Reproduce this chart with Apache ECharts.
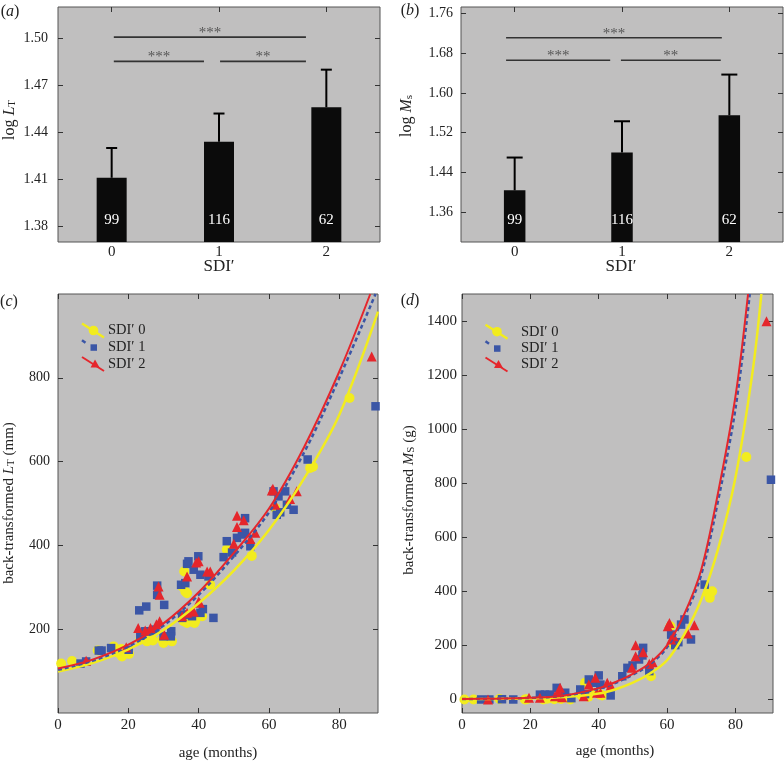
<!DOCTYPE html>
<html><head><meta charset="utf-8">
<script src="https://cdn.jsdelivr.net/npm/echarts@6/dist/echarts.min.js"></script>
<style>html,body{margin:0;padding:0;background:#fff}#c{width:784px;height:761px}</style>
</head><body><div id="c"></div>
<script>
const FONT = '"Liberation Serif", "Times New Roman", serif';

// ---------- data: panels (a) and (b) ----------
const sdiCategories = [0, 1, 2];
const sampleSizes = [99, 116, 62];
const logLTMean = [1.411, 1.434, 1.456];
const logLTUpper = [1.430, 1.452, 1.480];
const logMsMean = [1.404, 1.480, 1.555];
const logMsUpper = [1.470, 1.543, 1.637];
// significance bars: [from, to, level, stars]
const sigA = [[0.02, 1.81, 1.5008, '***'], [0.02, 0.86, 1.4853, '***'], [1.01, 1.81, 1.4853, '**']];
const sigB = [[-0.08, 1.93, 1.7112, '***'], [-0.08, 0.89, 1.6657, '***'], [0.99, 1.92, 1.6657, '**']];
const yTicksA = [1.38, 1.41, 1.44, 1.47, 1.50];
const yTicksB = [1.36, 1.44, 1.52, 1.60, 1.68, 1.76];
const xTicksAB = [0, 1, 2];

// ---------- data: panel (c) back-transformed L_T (mm) vs age ----------
const ageTicks = [0, 20, 40, 60, 80];
const yTicksC = [200, 400, 600, 800];
const yTicksD = [0, 200, 400, 600, 800, 1000, 1200, 1400];

const cSdi0 = [[0.9,118],[4.0,124],[11.3,149],[15.8,159],[17.2,143],[18,153],[18.2,135],[20.2,141],[23.4,175],[25.3,171],[27,173],[26,180],[29.6,175],[30,167],[32.4,171],[35.9,338],[35.3,302],[36.2,290],[36.7,286],[35.7,219],[36.7,215],[38.8,215],[39,219],[41,231],[43.3,306],[48,390],[55.1,375],[61.8,489],[71.7,585],[72.5,588],[82.9,752]];
const cSdi1 = [[6.4,118],[8,123],[11.6,149],[12.4,149],[15.1,155],[20.1,151],[23.1,245],[25.1,254],[28.2,304],[28.2,282],[30.2,258],[23.4,184],[24.8,195],[26.3,195],[27.7,199],[30,183],[32.2,195],[32.1,183],[35.7,235],[35.3,227],[37.1,235],[38.1,231],[40.5,239],[41.2,248],[35,306],[36.2,310],[36.7,356],[37.1,362],[39.9,374],[38.6,342],[40.5,330],[42.8,326],[44.2,227],[47.1,372],[48,410],[49.5,383],[50.9,418],[52.3,426],[53.2,465],[53.2,430],[54.7,398],[61.3,529],[62.7,517],[62.2,473],[63.2,479],[64.6,529],[65.1,497],[67,485],[71,605],[90.3,732]];
const cSdi2 = [[8,125],[19.4,157],[22.8,203],[24.8,197],[26.3,203],[28,212],[28.9,219],[28.6,302],[28.9,282],[30.2,187],[36.7,239],[38.4,243],[40.3,263],[39.3,359],[40,362],[42.4,338],[43.3,338],[36.7,326],[50.9,471],[50.9,444],[52.8,460],[50,404],[54.7,415],[56.1,430],[60.8,531],[61.1,535],[61.8,497],[66,511],[67.9,529],[40,266],[38.6,242],[35.3,231],[89.2,851]];
const cFit0 = [[0,99],[10,120],[20,152],[30,198],[40,262],[50,340],[60,437],[70,560],[80,712],[91,958]];
const cFit1 = [[0,103],[10,125],[20,159],[30,209],[40,282],[50,374],[60,479],[70,622],[80,800],[90.3,1000]];
const cFit2 = [[0,106],[10,128],[20,163],[30,214],[40,288],[50,382],[60,488],[70,635],[80,815],[88.8,1000]];

// ---------- data: panel (d) back-transformed M_S (g) vs age ----------
const dSdi0 = [[0.7,0],[3.4,0],[11,2],[18.4,0],[19,1],[23.8,0],[25,3],[27,1],[29,2],[31.7,0],[35,15],[36,62],[37,10],[38,25],[40.5,18],[41,15],[55.3,86],[61,271],[62,203],[72,394],[72.5,376],[73.2,400],[83.2,897]];
const dSdi1 = [[5.6,0],[8,0],[11.7,1],[15,0],[22.8,18],[24.3,18],[25.7,18],[27.7,43],[28,10],[30.2,25],[32,5],[34.6,37],[36,20],[37.1,74],[40,89],[38.6,62],[40.5,55],[43.5,15],[46.9,86],[48.4,117],[49.9,126],[51.8,148],[53,191],[52.8,163],[54.8,105],[61.2,240],[62.4,201],[63.3,212],[64.1,277],[65.1,296],[67,222],[71,425],[90.4,813]];
const dSdi2 = [[7.6,0],[19.6,6],[22.8,6],[27.2,12],[28.2,25],[28.7,43],[29.3,8],[35.6,12],[37.1,55],[39,80],[39.5,25],[40.5,25],[42.5,62],[43.5,52],[49.7,117],[50.8,160],[50.8,201],[53,175],[54.8,132],[55.8,138],[60.2,271],[60.7,283],[61.2,222],[61.9,234],[66.1,244],[68,275],[89.1,1399]];
const dFit0 = [[0,1],[10,2],[20,4],[30,9],[40,22],[45,38],[50,62],[55,96],[60,145],[65,240],[70,370],[75,560],[80,820],[85,1210],[87.6,1500]];
const dFit1 = [[0,2],[10,3],[20,6],[30,14],[40,40],[45,62],[50,92],[55,130],[60,193],[65,305],[70,462],[75,740],[80,1075],[84.2,1500]];
const dFit2 = [[0,2],[10,3],[20,6],[30,15],[40,42],[45,65],[50,95],[55,135],[60,200],[65,315],[70,480],[75,770],[80,1120],[83.7,1500]];

// ---------- styling ----------
const YELLOW = '#f2ec1e', BLUE = '#3b56a6', RED = '#e5262c';
const PLOT_BG = '#c0bfbf', BORDER = '#555';
const TICK = {inside: true, length: 5, lineStyle: {color: '#333', width: 1}};

function xPair(gi, min, max, ticks, fs, margin) {
  return [
    {type: 'value', gridIndex: gi, min, max, position: 'bottom',
      axisLine: {show: false, onZero: false},
      axisTick: Object.assign({customValues: ticks}, TICK),
      axisLabel: {customValues: ticks, fontFamily: FONT, fontSize: fs, color: '#222', margin},
      splitLine: {show: false}},
    {type: 'value', gridIndex: gi, min, max, position: 'top',
      axisLine: {show: false, onZero: false},
      axisTick: Object.assign({customValues: ticks}, TICK),
      axisLabel: {show: false, customValues: ticks},
      splitLine: {show: false}}
  ];
}
function yPair(gi, min, max, ticks, fs, margin, fmt) {
  return [
    {type: 'value', gridIndex: gi, min, max, position: 'left',
      axisLine: {show: false, onZero: false},
      axisTick: Object.assign({customValues: ticks}, TICK),
      axisLabel: {customValues: ticks, fontFamily: FONT, fontSize: fs, color: '#222', margin, formatter: fmt},
      splitLine: {show: false}},
    {type: 'value', gridIndex: gi, min, max, position: 'right',
      axisLine: {show: false, onZero: false},
      axisTick: Object.assign({customValues: ticks}, TICK),
      axisLabel: {show: false, customValues: ticks},
      splitLine: {show: false}}
  ];
}

const Y_MIN_A = 1.37, Y_MAX_A = 1.52;
const Y_MIN_B = 1.30, Y_MAX_B = 1.773;

function barRenderer(yMin, barW, capW) {
  return function (params, api) {
    const x = api.value(0), m = api.value(1), u = api.value(2), n = api.value(3);
    const base = api.coord([x, yMin]);
    const top = api.coord([x, m]);
    const up = api.coord([x, u]);
    return {type: 'group', children: [
      {type: 'rect', shape: {x: top[0] - barW / 2, y: top[1], width: barW, height: base[1] - top[1]},
        style: {fill: '#0b0b0b'}},
      {type: 'line', shape: {x1: top[0], y1: top[1], x2: up[0], y2: up[1]}, style: {stroke: '#000', lineWidth: 2}},
      {type: 'line', shape: {x1: up[0] - capW / 2, y1: up[1], x2: up[0] + capW / 2, y2: up[1]}, style: {stroke: '#000', lineWidth: 2}},
      {type: 'text', x: top[0], y: base[1] - 22,
        style: {text: String(n), fill: '#fff', font: '15px ' + FONT, align: 'center', verticalAlign: 'middle'}}
    ]};
  };
}
function sigRenderer(src) {
  return function (params, api) {
    const p0 = api.coord([api.value(0), api.value(2)]);
    const p1 = api.coord([api.value(1), api.value(2)]);
    return {type: 'group', children: [
      {type: 'line', shape: {x1: p0[0], y1: p0[1], x2: p1[0], y2: p1[1]}, style: {stroke: '#333', lineWidth: 1.6}},
      {type: 'text', x: (p0[0] + p1[0]) / 2, y: p0[1] - 4,
        style: {text: src[params.dataIndex][3], fill: '#555', font: '15px ' + FONT, align: 'center', verticalAlign: 'middle'}}
    ]};
  };
}

function scatter(xi, data, symbol, size, color) {
  return {type: 'scatter', xAxisIndex: xi, yAxisIndex: xi, data, symbol, symbolSize: size,
    itemStyle: {color, opacity: 1}, z: 3, animation: false};
}
function fit(xi, data, color, width, dashed, z) {
  return {type: 'line', xAxisIndex: xi, yAxisIndex: xi, data, showSymbol: false, smooth: 0.35,
    lineStyle: {color, width, type: dashed ? [4, 3] : 'solid'}, z, animation: false, silent: true};
}

const subRich = (fs) => ({
  n: {fontFamily: FONT, fontSize: fs, fill: '#222', fontStyle: 'normal'},
  i: {fontFamily: FONT, fontSize: fs, fill: '#222', fontStyle: 'italic'},
  s: {fontFamily: FONT, fontSize: Math.round(fs * 0.7), fill: '#222', lineHeight: 8, verticalAlign: 'bottom'}
});
function rtext(x, y, text, fs, rot) {
  return {type: 'text', x, y, rotation: rot || 0, silent: true,
    style: {text, rich: subRich(fs), fontFamily: FONT, fontSize: fs, fill: '#222', align: 'center', verticalAlign: 'middle'}};
}
function ptext(x, y, text, fs, align) {
  return {type: 'text', x, y, silent: true,
    style: {text, fontFamily: FONT, fontSize: fs, fill: '#222', align: align || 'center', verticalAlign: 'middle'}};
}
function legend(x0, ys, textX) {
  const g = [];
  g.push({type: 'line', shape: {x1: x0, y1: ys[0] - 7, x2: x0 + 22, y2: ys[0] + 7}, style: {stroke: YELLOW, lineWidth: 2.5}});
  g.push({type: 'circle', shape: {cx: x0 + 11.5, cy: ys[0], r: 4.8}, style: {fill: YELLOW}});
  g.push({type: 'line', shape: {x1: x0, y1: ys[1] - 7, x2: x0 + 3.5, y2: ys[1] - 4.5}, style: {stroke: BLUE, lineWidth: 2.5}});
  g.push({type: 'rect', shape: {x: x0 + 8.5, y: ys[1] - 3, width: 6.5, height: 6.5}, style: {fill: BLUE}});
  g.push({type: 'line', shape: {x1: x0, y1: ys[2] - 7, x2: x0 + 22, y2: ys[2] + 7}, style: {stroke: RED, lineWidth: 2}});
  g.push({type: 'polygon', shape: {points: [[x0 + 13, ys[2] - 4.5], [x0 + 17.5, ys[2] + 3.5], [x0 + 8.5, ys[2] + 3.5]]}, style: {fill: RED}});
  ['SDI\u2032 0', 'SDI\u2032 1', 'SDI\u2032 2'].forEach((t, k) => g.push(ptext(textX, ys[k], t, 14.5, 'left')));
  return g;
}

const option = {
  backgroundColor: '#fff',
  animation: false,
  grid: [
    {left: 58, top: 7, width: 322, height: 235},
    {left: 461, top: 7, width: 322, height: 235},
    {left: 58, top: 294, width: 320, height: 419},
    {left: 462, top: 294, width: 311, height: 419}
  ].map(g => Object.assign({show: true, backgroundColor: PLOT_BG, borderColor: BORDER, borderWidth: 1, containLabel: false}, g)),
  xAxis: [].concat(
    xPair(0, -0.5, 2.5, xTicksAB, 15, 3),
    xPair(1, -0.5, 2.5, xTicksAB, 15, 3),
    xPair(2, 0, 91, ageTicks, 15, 5),
    xPair(3, 0, 91, ageTicks, 15, 5)
  ),
  yAxis: [].concat(
    yPair(0, Y_MIN_A, Y_MAX_A, yTicksA, 14, 10, v => v.toFixed(2)),
    yPair(1, Y_MIN_B, Y_MAX_B, yTicksB, 14, 8, v => v.toFixed(2)),
    yPair(2, 0, 1000, yTicksC, 14, 8, v => String(v)),
    yPair(3, -50, 1500, yTicksD, 15, 5, v => String(v))
  ),
  series: [
    {type: 'custom', xAxisIndex: 0, yAxisIndex: 0, renderItem: barRenderer(Y_MIN_A, 30, 11),
      data: sdiCategories.map((c, i) => [c, logLTMean[i], logLTUpper[i], sampleSizes[i]]), encode: {x: 0, y: [1, 2]}},
    {type: 'custom', xAxisIndex: 0, yAxisIndex: 0, renderItem: sigRenderer(sigA),
      data: sigA.map(s => [s[0], s[1], s[2]]), encode: {x: [0, 1], y: 2}},
    {type: 'custom', xAxisIndex: 2, yAxisIndex: 2, renderItem: barRenderer(Y_MIN_B, 21.5, 16),
      data: sdiCategories.map((c, i) => [c, logMsMean[i], logMsUpper[i], sampleSizes[i]]), encode: {x: 0, y: [1, 2]}},
    {type: 'custom', xAxisIndex: 2, yAxisIndex: 2, renderItem: sigRenderer(sigB),
      data: sigB.map(s => [s[0], s[1], s[2]]), encode: {x: [0, 1], y: 2}},

    scatter(4, cSdi0, 'circle', 10, YELLOW),
    scatter(4, cSdi1, 'rect', 8.5, BLUE),
    scatter(4, cSdi2, 'triangle', 10, RED),
    fit(4, cFit0, YELLOW, 2.5, false, 5),
    fit(4, cFit1, BLUE, 2.5, true, 6),
    fit(4, cFit2, RED, 2, false, 7),

    scatter(6, dSdi0, 'circle', 10, YELLOW),
    scatter(6, dSdi1, 'rect', 8.5, BLUE),
    scatter(6, dSdi2, 'triangle', 10, RED),
    fit(6, dFit0, YELLOW, 2.5, false, 5),
    fit(6, dFit1, BLUE, 2.5, true, 6),
    fit(6, dFit2, RED, 2, false, 7)
  ],
  graphic: [].concat(
    [
      rtext(10, 12, '{n|(}{i|a}{n|)}', 16),
      rtext(410, 11, '{n|(}{i|b}{n|)}', 16),
      rtext(9, 302, '{n|(}{i|c}{n|)}', 16),
      rtext(410, 301, '{n|(}{i|d}{n|)}', 16),
      rtext(10, 120, '{n|log }{i|L}{s|T}', 16, Math.PI / 2),
      rtext(407, 116, '{n|log }{i|M}{s|s}', 16, Math.PI / 2),
      rtext(9, 503, '{n|back-transformed }{i|L}{s|T}{n| (mm)}', 15, Math.PI / 2),
      rtext(409, 500, '{n|back-transformed }{i|M}{s|S}{n| (g)}', 15, Math.PI / 2),
      ptext(219, 267, 'SDI\u2032', 17),
      ptext(621, 267, 'SDI\u2032', 17),
      ptext(218, 753, 'age (months)', 15),
      ptext(615, 751, 'age (months)', 15)
    ],
    legend(82, [330.5, 347.3, 364], 108),
    legend(485.5, [331.7, 348.3, 364.5], 521)
  )
};

const chart = echarts.init(document.getElementById('c'), null, {renderer: 'canvas'});
chart.setOption(option);
</script>
</body></html>
